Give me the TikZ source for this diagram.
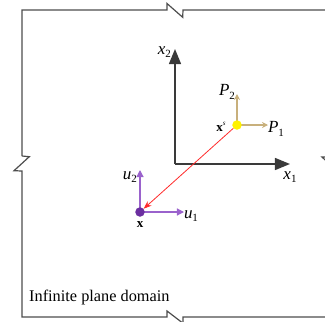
\documentclass[tikz,border=0pt]{standalone}
\usepackage{fontspec}
\setmainfont{Liberation Serif}
\usetikzlibrary{arrows.meta}
\definecolor{framecol}{HTML}{4D4D4D}
\definecolor{axiscol}{HTML}{3A3A3A}
\definecolor{tancol}{HTML}{C8B07C}
\definecolor{ptpurple}{HTML}{6B2FA0}
\definecolor{arpurple}{HTML}{9A62CC}
\definecolor{srcred}{HTML}{FF2A2A}
\definecolor{srcyellow}{HTML}{FFF200}
\newcommand\sublab[2]{\textit{#1}\raisebox{-0.45ex}{\fontsize{11}{11}\selectfont #2}}
\begin{document}
\begin{tikzpicture}[x=1pt,y=-1pt,
  frameline/.style={draw=framecol,line width=1.2pt,line join=miter},
  axisline/.style={draw=axiscol,line width=1.3pt,-{Triangle[length=15pt,width=12pt]}},
  tanarrow/.style={draw=tancol,line width=1.2pt,-{Stealth[length=6pt,width=6pt]}},
  purarrow/.style={draw=arpurple,line width=1.2pt,-{Triangle[length=7pt,width=7pt]}},
  redarrow/.style={draw=srcred,line width=0.8pt,-{Stealth[length=8pt,width=6pt]}},
  dot/.style={circle,inner sep=0pt,minimum size=9.5pt},
  lab/.style={inner sep=0pt,font=\fontsize{17}{17}\selectfont},
  txt/.style={inner sep=0pt,font=\fontsize{16.3}{16.3}\selectfont},
  blab/.style={inner sep=0pt,font=\fontsize{13}{13}\selectfont\bfseries}]
\useasboundingbox (0,0) rectangle (325,322);
% frame
\draw[frameline] (22,156) -- (22,10) -- (167,10) -- (167,3.5) -- (182.7,17.3) -- (183,10) -- (332,10) -- (332,157) -- (322,157) -- (337,171) -- (332,171) -- (332,317) -- (183,317) -- (183,324);
\draw[frameline] (22,156) -- (29.3,156.7) -- (14,170.7) -- (22,171) -- (22,317) -- (167,317) -- (167,311) -- (182.7,323);
% axes
\coordinate (O) at (175,164);
\coordinate (X1) at (290,164);
\coordinate (X2) at (175,49);
\draw[axisline] (O) -- (X1);
\draw[axisline] (O) -- (X2);
\node[lab] (lx1) at (290,177) {\sublab{x}{1}};
\node[lab,anchor=east] (lx2) at (171,52) {\sublab{x}{2}};
% source point
\coordinate (Sc) at (237,125);
\coordinate (P1e) at (268,125);
\coordinate (P2e) at (237,94);
\draw[tanarrow] (Sc) -- (P1e);
\draw[tanarrow] (Sc) -- (P2e);
\node[dot,fill=srcyellow] (S) at (Sc) {};
\node[lab] (lp1) at (276,129) {\sublab{P}{1}};
\node[lab] (lp2) at (227,92) {\sublab{P}{2}};
\node[blab] (lxs) at (221,127) {x\raisebox{0.9ex}{\fontsize{7}{7}\selectfont\mdseries\itshape s}};
% field point
\coordinate (Tc) at (140,212);
\coordinate (U1e) at (184,212);
\coordinate (U2e) at (140,170);
\draw[purarrow] (Tc) -- (U1e);
\draw[purarrow] (Tc) -- (U2e);
\node[dot,fill=ptpurple] (T) at (Tc) {};
\node[lab] (lu1) at (191,216) {\sublab{u}{1}};
\node[lab] (lu2) at (130,177) {\sublab{u}{2}};
\node[blab] (lx) at (140,225) {x};
% red connector
\draw[redarrow] (S) -- (T);
% domain label
\node[txt,anchor=west] (dom) at (29,297) {Infinite plane domain};
\end{tikzpicture}
\end{document}
